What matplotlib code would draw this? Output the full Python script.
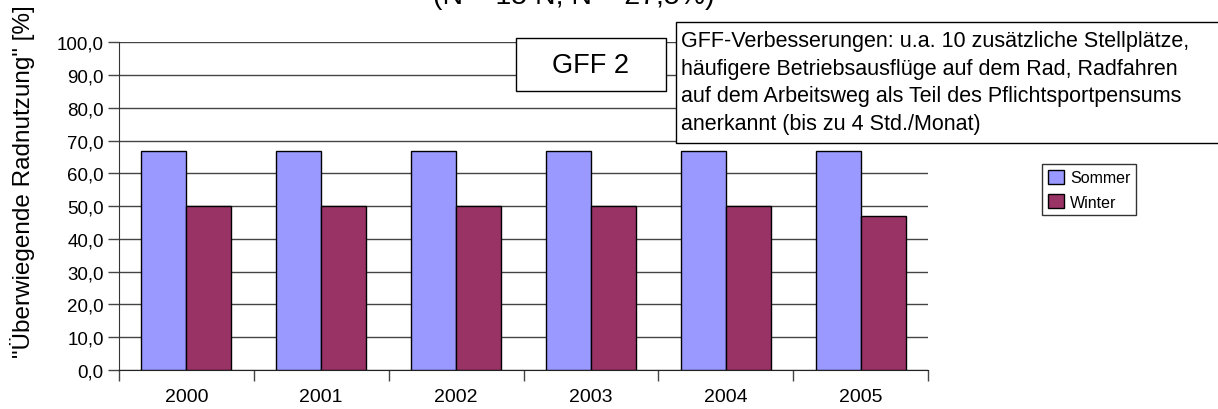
import numpy as np
import matplotlib
matplotlib.use('Agg')
import matplotlib.pyplot as plt
from matplotlib.patches import Rectangle

plt.rcParams['font.family'] = ['Liberation Sans', 'DejaVu Sans']

years = ['2000', '2001', '2002', '2003', '2004', '2005']
sommer = [66.7, 66.7, 66.7, 66.7, 66.7, 66.8]
winter = [50.0, 50.0, 50.0, 50.0, 50.0, 47.1]
yticks = np.arange(0, 101, 10)

W, H = 1218, 410
fig = plt.figure(figsize=(W / 100, H / 100), dpi=100)
ax = fig.add_axes([119 / W, 1 - 371 / H, (928 - 119) / W, (371 - 43.3) / H])

x = np.arange(len(years))
w = 1 / 3
b1 = ax.bar(x - w / 2, sommer, w, color='#9999FF', edgecolor='black', linewidth=1, label='Sommer', zorder=3)
b2 = ax.bar(x + w / 2, winter, w, color='#993366', edgecolor='black', linewidth=1, label='Winter', zorder=3)

ax.set_xlim(-0.5, len(years) - 0.5)
ax.set_ylim(0, 100)
ax.set_yticks(yticks)
ax.set_yticklabels([f'{v:.1f}'.replace('.', ',') for v in yticks], fontsize=13.5)
ax.set_xticks(x)
ax.set_xticklabels(years, fontsize=14)
ax.set_xticks(np.arange(-0.5, len(years), 1), minor=True)
ax.tick_params(axis='x', which='major', length=0, pad=13)
ax.tick_params(axis='x', which='minor', length=8, width=1, color='#444444')
ax.tick_params(axis='y', length=8, width=1, color='#444444', pad=3)
ax.yaxis.grid(True, color='#444444', linewidth=1, zorder=0)
ax.set_axisbelow(True)
for s in ['top', 'right']:
    ax.spines[s].set_visible(False)
ax.spines['left'].set_color('#333333')
ax.spines['bottom'].set_color('#222222')
ax.set_ylabel('"Überwiegende Radnutzung" [%]', fontsize=17.5)
ax.yaxis.set_label_coords((35 - 119) / (928 - 119), 0.578)

# cut-off title
fig.text(574 / W, 1 - 4 / H, '(N = 15 N; N = 27,5%)', fontsize=20.5, ha='center', va='baseline')

# GFF 2 box
fig.patches.append(Rectangle((516 / W, 1 - 92 / H), 150 / W, 53 / H, transform=fig.transFigure,
                             facecolor='white', edgecolor='black', linewidth=1, zorder=5))
fig.text(591 / W, 1 - 66 / H, 'GFF 2', fontsize=19.5, ha='center', va='center', zorder=6)

# annotation box
fig.patches.append(Rectangle((676 / W, 1 - 144 / H), 560 / W, 121 / H, transform=fig.transFigure,
                             facecolor='white', edgecolor='black', linewidth=1, zorder=5))
note = ('GFF-Verbesserungen: u.a. 10 zusätzliche Stellplätze,\n'
        'häufigere Betriebsausflüge auf dem Rad, Radfahren\n'
        'auf dem Arbeitsweg als Teil des Pflichtsportpensums\n'
        'anerkannt (bis zu 4 Std./Monat)')
fig.text(681 / W, 1 - 31 / H, note, fontsize=15.5, ha='left', va='top', linespacing=1.42, zorder=6)

leg = fig.legend(handles=[b1, b2], loc='upper left', bbox_to_anchor=(1042 / W, 1 - 165 / H),
                 fontsize=11.5, frameon=True, fancybox=False, borderaxespad=0, borderpad=0.35,
                 handlelength=1.0, handleheight=1.0, handletextpad=0.4, labelspacing=0.55)
leg.get_frame().set_edgecolor('black')
leg.get_frame().set_linewidth(1)

fig.savefig('out.png', dpi=100)
